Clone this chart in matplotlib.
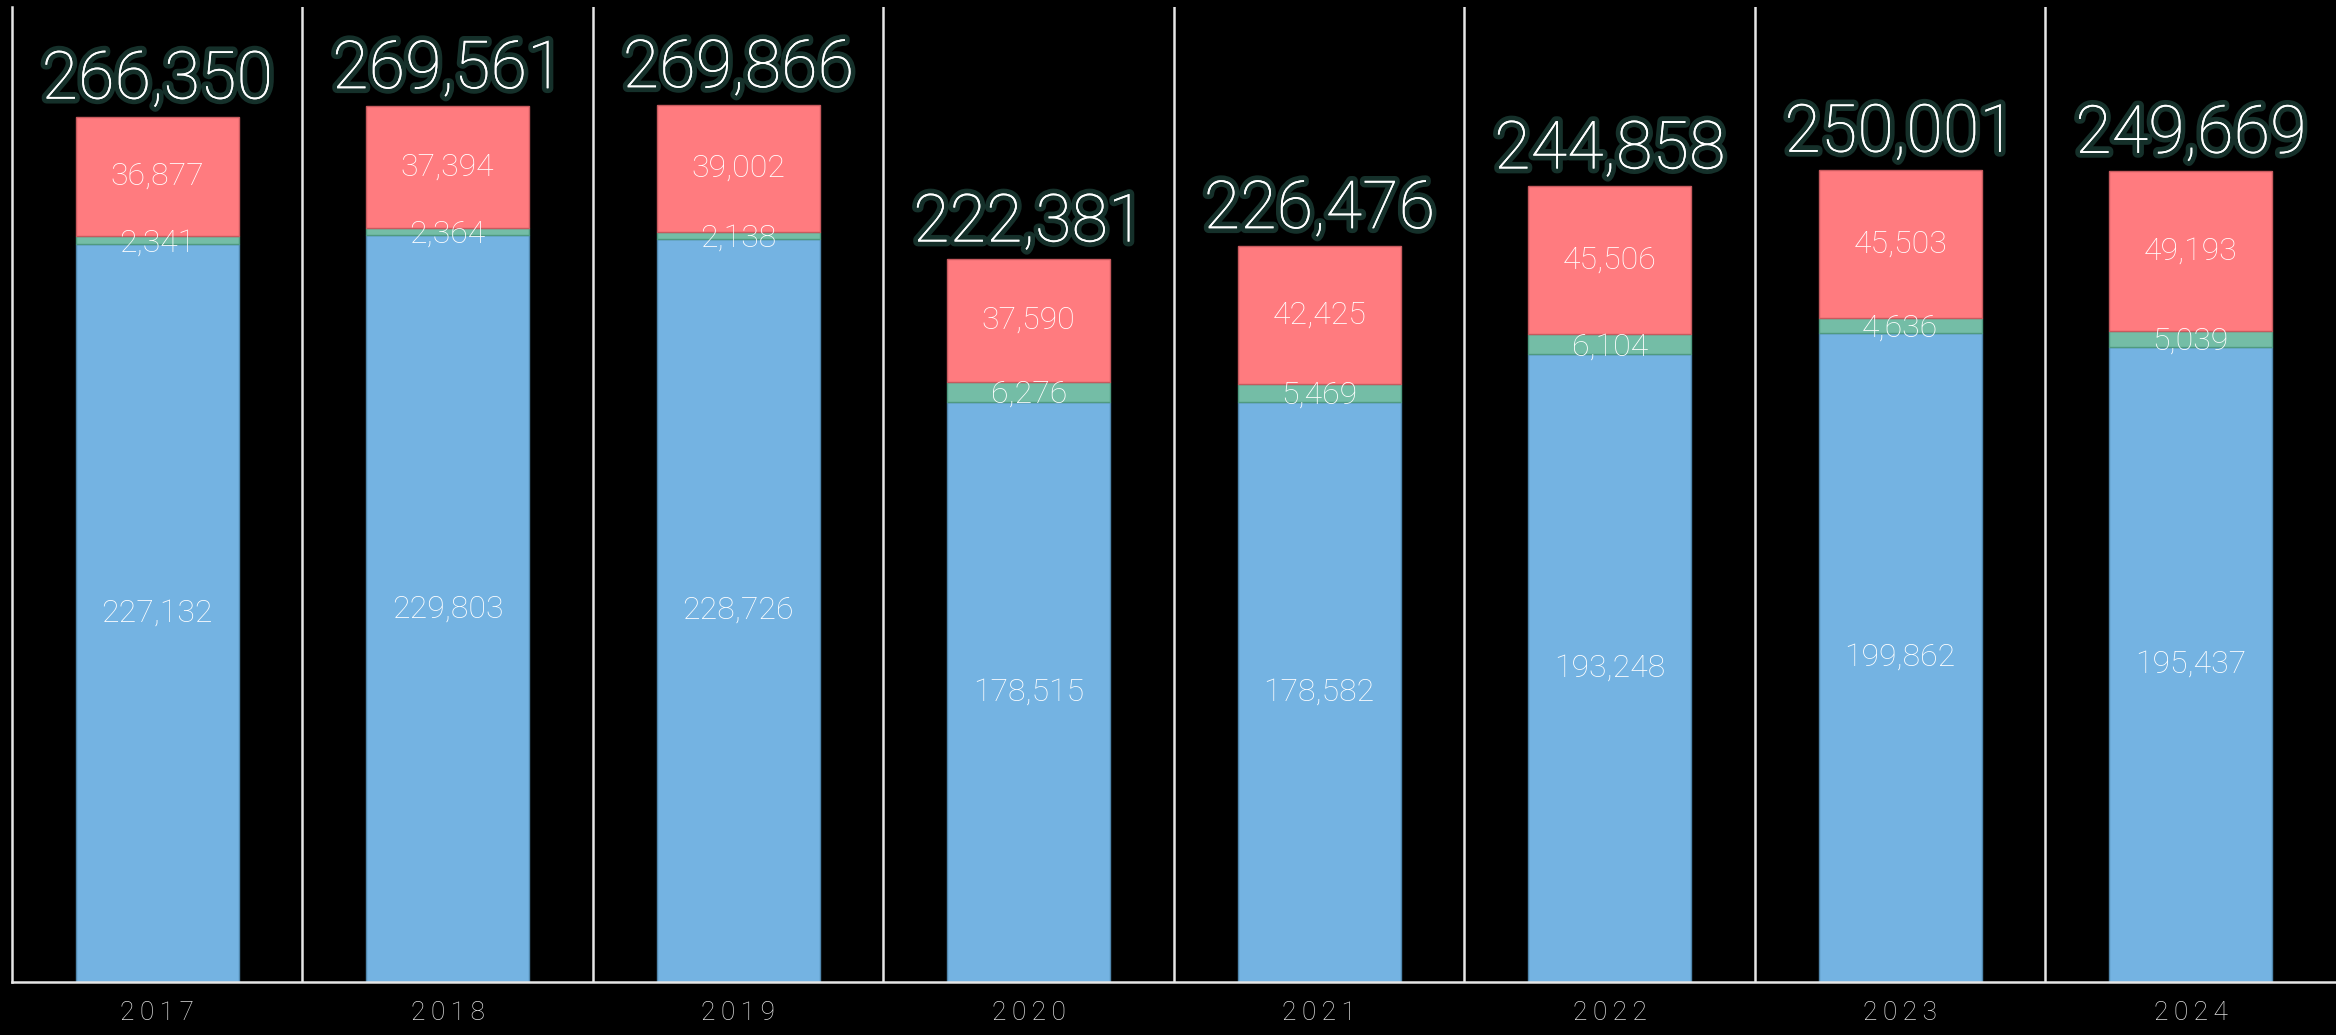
import numpy as np
import matplotlib.pyplot as plt
import matplotlib.patheffects as pe

years = ['2017', '2018', '2019', '2020', '2021', '2022', '2023', '2024']
blue_vals = [227132, 229803, 228726, 178515, 178582, 193248, 199862, 195437]
green_vals = [2341, 2364, 2138, 6276, 5469, 6104, 4636, 5039]
red_vals = [36877, 37394, 39002, 37590, 42425, 45506, 45503, 49193]

plt.rcParams['font.family'] = ['Roboto', 'DejaVu Sans']

fig = plt.figure(figsize=(23.36, 10.35), dpi=100, facecolor='black')
ax = fig.add_axes([0.0051, 0.0512, 0.9949, 0.9418])
ax.set_facecolor('black')

x = np.arange(len(years))
blue = np.array(blue_vals)
green = np.array(green_vals)
red = np.array(red_vals)
totals = blue + green + red

w = 0.56
ax.bar(x, blue, w, color='#74b3e2', edgecolor='#4f86ad', linewidth=1)
ax.bar(x, green, w, bottom=blue, color='#74bda6', edgecolor='#4f9a80', linewidth=1)
ax.bar(x, red, w, bottom=blue + green, color='#ff7b7f', edgecolor='#c85a5e', linewidth=1)

lab = dict(ha='center', va='center', color='white', fontsize=23, fontweight='light')
for i in range(len(years)):
    ax.text(x[i], blue[i] / 2, f'{blue[i]:,}', **lab)
    ax.text(x[i], blue[i] + green[i] / 2 - 800, f'{green[i]:,}', **lab)
    ax.text(x[i], blue[i] + green[i] + red[i] / 2, f'{red[i]:,}', **lab)
    t = ax.text(x[i], totals[i] + 1200, f'{totals[i]:,}', ha='center', va='bottom',
                color='white', fontsize=48, fontweight='light')
    t.set_path_effects([pe.withStroke(linewidth=7, foreground='#15302a'), pe.Normal()])

for b in np.arange(0.5, len(years) - 0.5, 1):
    ax.axvline(b, color='#e6e6e6', linewidth=1.8)

ax.set_xlim(-0.5, len(years) - 0.5)
ax.set_ylim(0, 300000)
ax.set_xticks(x)
ax.set_xticklabels(['\u2009'.join(y) for y in years], color='#e0e0e0',
                   fontsize=19, fontweight='light')
ax.tick_params(axis='x', length=0, pad=14)
ax.set_yticks([])
for s in ['top', 'right']:
    ax.spines[s].set_visible(False)
ax.spines['left'].set_color('#e6e6e6')
ax.spines['bottom'].set_color('#e6e6e6')
ax.spines['left'].set_linewidth(1.8)
ax.spines['bottom'].set_linewidth(1.8)

plt.savefig('out.png', dpi=100, facecolor='black')
